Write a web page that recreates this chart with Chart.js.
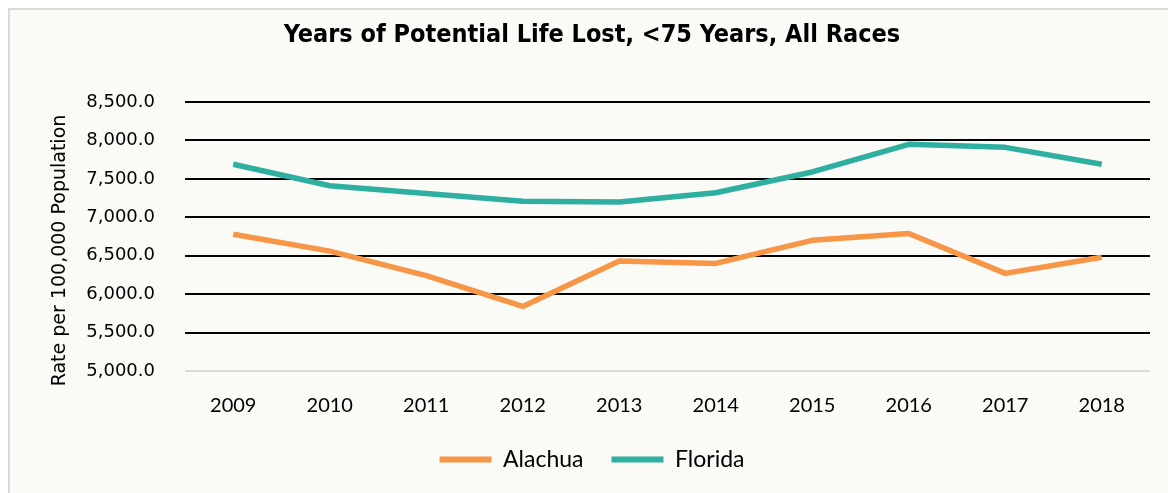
<!DOCTYPE html>
<html>
<head>
<meta charset="utf-8">
<script src="https://cdn.jsdelivr.net/npm/chart.js@4"></script>
<style>
  html, body { margin: 0; padding: 0; background: #ffffff; }
  #wrap { position: relative; width: 1168px; height: 493px; }
</style>
</head>
<body>
<div id="wrap"><canvas id="yplChart" width="1168" height="493"></canvas></div>
<script>
const years = ['2009', '2010', '2011', '2012', '2013', '2014', '2015', '2016', '2017', '2018'];
const alachua = [6780, 6560, 6240, 5840, 6430, 6400, 6700, 6790, 6270, 6480];
const florida = [7690, 7410, 7310, 7210, 7200, 7320, 7590, 7950, 7910, 7690];
const yMin = 5000;
const yMax = 8500;
const yStep = 500;
const yTitle = 'Rate per 100,000 Population';

const orange = '#F79646';
const teal = '#2FAFA0';

// light panel with a grey frame, like the spreadsheet chart area
const framePlugin = {
    id: 'frame',
    beforeDraw(chart) {
        const c = chart.ctx;
        c.save();
        c.fillStyle = '#ffffff';
        c.fillRect(0, 0, chart.width, chart.height);
        c.fillStyle = '#FAFAF6';
        c.fillRect(9, 9, chart.width, chart.height);
        c.strokeStyle = '#D9D9D9';
        c.lineWidth = 2;
        c.beginPath();
        c.moveTo(9, chart.height);
        c.lineTo(9, 9);
        c.lineTo(chart.width, 9);
        c.stroke();
        c.restore();
    }
};

// y axis title sits a bit lower than the plot centre in the original
const yTitlePlugin = {
    id: 'yTitle',
    afterDraw(chart) {
        const c = chart.ctx;
        const area = chart.chartArea;
        c.save();
        c.translate(60, (area.top + area.bottom) / 2 + 14);
        c.rotate(-Math.PI / 2);
        c.font = '19px "DejaVu Sans"';
        c.fillStyle = '#000000';
        c.textAlign = 'center';
        c.textBaseline = 'middle';
        c.fillText(yTitle, 0, 0);
        c.restore();
    }
};

const ctx = document.getElementById('yplChart').getContext('2d');

const myChart = new Chart(ctx, {
    type: 'line',
    data: {
        labels: years,
        datasets: [{
            label: 'Alachua',
            data: alachua,
            borderColor: orange,
            backgroundColor: orange,
            borderWidth: 5.5,
            pointRadius: 0,
            tension: 0,
            borderJoinStyle: 'round'
        }, {
            label: 'Florida',
            data: florida,
            borderColor: teal,
            backgroundColor: teal,
            borderWidth: 5.5,
            pointRadius: 0,
            tension: 0,
            borderJoinStyle: 'round'
        }]
    },
    options: {
        responsive: false,
        animation: false,
        layout: { padding: { left: 34, right: 18, top: 15, bottom: 12 } },
        plugins: {
            title: {
                display: true,
                text: 'Years of Potential Life Lost, <75 Years, All Races',
                color: '#000000',
                font: { family: '"DejaVu Sans Condensed", sans-serif', size: 25, weight: 'bold' },
                padding: { top: 5, bottom: 52 }
            },
            legend: {
                position: 'bottom',
                labels: {
                    color: '#000000',
                    font: { family: 'Lato', size: 23 },
                    boxWidth: 52,
                    boxHeight: 6,
                    padding: 28,
                    generateLabels(chart) {
                        return chart.data.datasets.map((ds, i) => ({
                            text: ds.label,
                            fillStyle: ds.borderColor,
                            strokeStyle: ds.borderColor,
                            lineWidth: 0,
                            hidden: false,
                            datasetIndex: i
                        }));
                    }
                }
            },
            tooltip: { enabled: false }
        },
        scales: {
            x: {
                offset: true,
                grid: { display: false, drawTicks: false },
                border: { display: false },
                ticks: {
                    color: '#000000',
                    font: { family: 'Lato', size: 20 },
                    padding: 23,
                    maxRotation: 0
                },
                afterFit(scale) {
                    scale.height = 49;
                }
            },
            y: {
                min: yMin,
                max: yMax,
                border: { display: false },
                grid: {
                    drawTicks: false,
                    lineWidth: 2,
                    color: (c) => (c.tick && c.tick.value === yMin) ? '#D9D9D9' : '#000000'
                },
                ticks: {
                    stepSize: yStep,
                    color: '#000000',
                    font: { family: '"DejaVu Sans"', size: 18 },
                    padding: 30,
                    callback: (v) => v.toLocaleString('en-US', { minimumFractionDigits: 1, maximumFractionDigits: 1 })
                },
                afterFit(scale) {
                    scale.width = 151;
                }
            }
        }
    },
    plugins: [framePlugin, yTitlePlugin]
});
</script>
</body>
</html>
